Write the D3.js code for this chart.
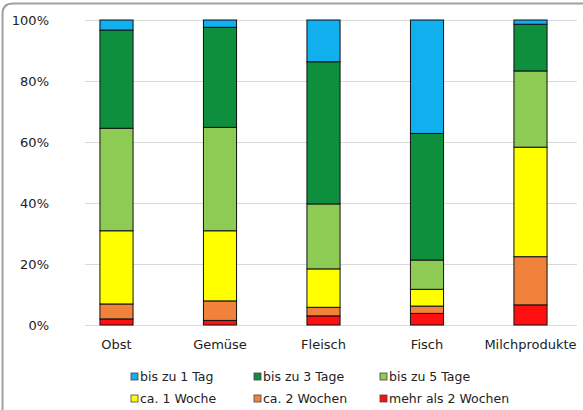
<!DOCTYPE html>
<html><head><meta charset="utf-8">
<script src="https://cdn.jsdelivr.net/npm/d3@7"></script>
<style>html,body{margin:0;background:#fff;overflow:hidden}svg{display:block}text{font-family:"DejaVu Sans",sans-serif;fill:#222}</style>
</head><body><svg id="c" width="583" height="410"></svg>
<script>
const categories = ["Obst","Gemüse","Fleisch","Fisch","Milchprodukte"];
const seriesNames = ["mehr als 2 Wochen","ca. 2 Wochen","ca. 1 Woche","bis zu 5 Tage","bis zu 3 Tage","bis zu 1 Tag"];
const mehrAls2Wochen = [2.0, 1.5, 3.0, 3.8, 6.6];
const ca2Wochen      = [4.9, 6.4, 2.8, 2.4, 15.8];
const ca1Woche       = [24.0, 23.0, 12.6, 5.5, 35.9];
const bisZu5Tage     = [33.6, 33.9, 21.3, 9.6, 25.0];
const bisZu3Tage     = [32.2, 32.8, 46.6, 41.5, 15.3];
const bisZu1Tag      = [3.3, 2.4, 13.7, 37.2, 1.4];
const yTicks = [0, 20, 40, 60, 80, 100];
const colors = ["#FF1010","#F0823C","#FFFF00","#8DCB54","#0E8F3E","#12AFEF"];
const legendOrder = [5,4,3,2,1,0];

const values = [mehrAls2Wochen, ca2Wochen, ca1Woche, bisZu5Tage, bisZu3Tage, bisZu1Tag];
const rows = categories.map((c,i)=>{const o={cat:c}; seriesNames.forEach((s,j)=>o[s]=values[j][i]); return o;});
const stack = d3.stack().keys(seriesNames)(rows);

const svg = d3.select("#c");
// frame (only left and top edges visible in the crop)
svg.append("path").attr("d","M2.5,420 L2.5,14 Q2.5,3.5 13,3.5 L600,3.5")
  .attr("fill","none").attr("stroke","#a0a0a0").attr("stroke-width",2);

const x = d3.scaleBand().domain(categories).range([64.75, 582.25]).paddingInner(0.68).paddingOuter(0.34);
const y = d3.scaleLinear().domain([0,100]).range([325, 20]);

// gridlines
svg.append("g").selectAll("line").data(yTicks).join("line")
  .attr("x1",85).attr("x2",577).attr("y1",d=>y(d)).attr("y2",d=>y(d))
  .attr("stroke","#d9d9d9").attr("stroke-width",1).attr("shape-rendering","crispEdges");

// y axis labels
const yAxis = d3.axisLeft(y).tickValues(yTicks).tickFormat(d=>d+"%").tickSize(0).tickPadding(0);
const gy = svg.append("g").attr("transform","translate(49,0)").call(yAxis);
gy.select(".domain").remove();
gy.selectAll("text").attr("font-size",13).attr("font-family","DejaVu Sans").attr("fill","#222").attr("dy","0.35em");

// bars
svg.append("g").selectAll("g").data(stack).join("g").attr("fill",(d,i)=>colors[i])
  .selectAll("rect").data(d=>d).join("rect")
  .attr("x",d=>x(d.data.cat)).attr("width",x.bandwidth())
  .attr("y",d=>y(d[1])).attr("height",d=>y(d[0])-y(d[1]))
  .attr("stroke","#111").attr("stroke-width",1);

// x axis labels
const xAxis = d3.axisBottom(x).tickSize(0).tickPadding(0);
const gx = svg.append("g").attr("transform","translate(0,340)").call(xAxis);
gx.select(".domain").remove();
gx.selectAll("text").attr("font-size",13).attr("font-family","DejaVu Sans").attr("fill","#222");

// legend
const legX = [131, 254, 380], legY = [377, 399];
const lg = svg.append("g").selectAll("g").data(legendOrder).join("g")
  .attr("transform",(s,k)=>`translate(${legX[k%3]},${legY[Math.floor(k/3)]})`);
lg.append("rect").attr("x",0).attr("y",-4).attr("width",7).attr("height",7)
  .attr("fill",s=>colors[s]).attr("stroke","#444").attr("stroke-width",0.8);
lg.append("text").attr("x",9).attr("dy","0.35em").attr("font-size",12.5).text(s=>seriesNames[s]);
</script></body></html>
